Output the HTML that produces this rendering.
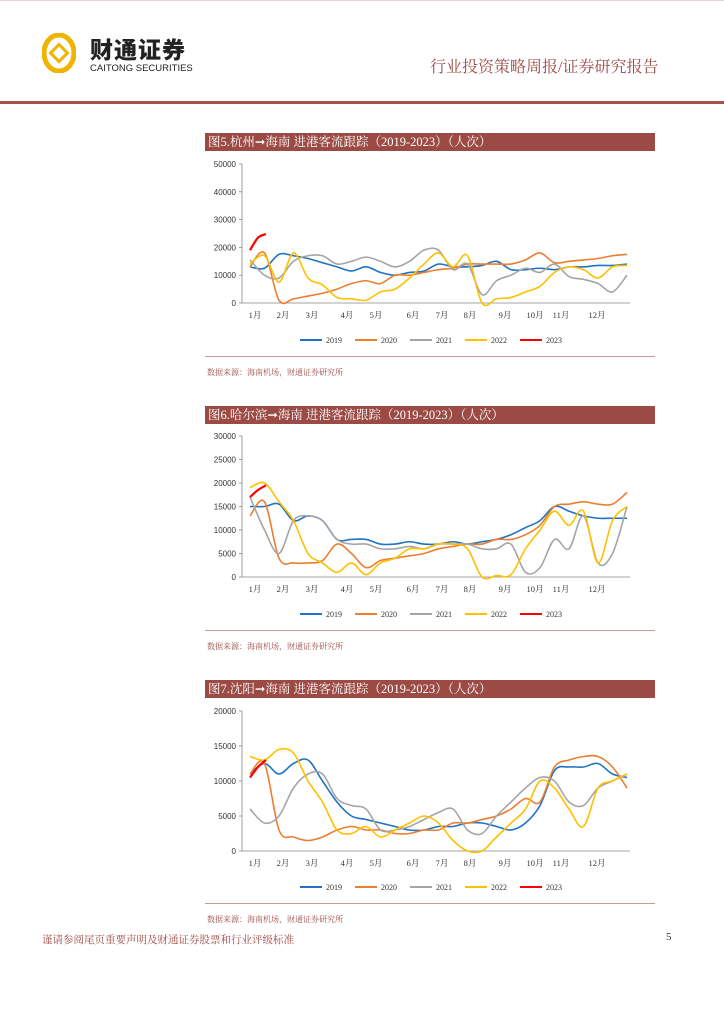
<!DOCTYPE html>
<html><head><meta charset="utf-8">
<style>
body{margin:0;width:724px;height:1024px;background:#fff;position:relative;font-family:"Liberation Serif","Noto Serif CJK SC",serif;overflow:hidden}
.abs{position:absolute}
.bar{position:absolute;left:205px;width:450px;height:18px;background:#9b4a44;color:#fff;font-size:12.5px;line-height:18px;padding-left:3px;box-sizing:border-box}
.src{position:absolute;left:207px;font-size:8px;color:#9b4a44}
.sep{position:absolute;left:205px;width:450px;height:1px;background:#c99a96}
</style></head><body>
<div class="abs" style="left:0;top:0;width:724px;height:1px;background:#e8d4d2"></div>
<svg class="abs" style="left:42px;top:33px" width="34" height="40" viewBox="0 0 34 40"><ellipse cx="17" cy="20" rx="15" ry="18" fill="none" stroke="#f0b400" stroke-width="5"/><rect x="11" y="14" width="12" height="12" transform="rotate(45 17 20)" fill="none" stroke="#f0b400" stroke-width="3"/></svg>
<div class="abs" style="left:90px;top:36px;font-family:'Noto Sans CJK SC',sans-serif;font-weight:900;font-size:23px;line-height:24px;color:#222;letter-spacing:1px">财通证券</div>
<div class="abs" style="left:90px;top:63px;font-family:'Liberation Sans',sans-serif;font-size:9.5px;line-height:11px;color:#222">CAITONG SECURITIES</div>
<div class="abs" style="left:430px;top:54px;font-size:16px;color:#9b4a44">行业投资策略周报/证券研究报告</div>
<div class="abs" style="left:0;top:101px;width:724px;height:3px;background:#a8504a"></div>

<div class="bar" style="top:133px">图5.杭州➞海南 进港客流跟踪（2019-2023）（人次）</div>
<div class="sep" style="top:356px"></div>
<div class="src" style="top:367px">数据来源：海南机场，财通证券研究所</div>
<div class="bar" style="top:406px">图6.哈尔滨➞海南 进港客流跟踪（2019-2023）（人次）</div>
<div class="sep" style="top:630px"></div>
<div class="src" style="top:641px">数据来源：海南机场，财通证券研究所</div>
<div class="bar" style="top:680px">图7.沈阳➞海南 进港客流跟踪（2019-2023）（人次）</div>
<div class="sep" style="top:903px"></div>
<div class="src" style="top:914px">数据来源：海南机场，财通证券研究所</div>

<div class="abs" style="left:42px;top:932px;font-size:10.5px;color:#9b4a44">谨请参阅尾页重要声明及财通证券股票和行业评级标准</div>
<div class="abs" style="left:666px;top:931px;font-size:11px;color:#333">5</div>

<svg id="charts" class="abs" style="left:0;top:0" width="724" height="1024"></svg>
<script>
const months=["1月","2月","3月","4月","5月","6月","7月","8月","9月","10月","11月","12月"];
const monthX=[255,283,312,347,376,413,442,470,505,535,561,597];
const years=["2019","2020","2021","2022","2023"];
const colors=["#1f72c4","#ed7d31","#a5a5a5","#ffc000","#ff0000"];
const c5Ticks=[0,10000,20000,30000,40000,50000];
const c5_2019=[13,12.5,17.5,17,16,14.5,13,11.5,13,11,10,11,11.5,14,13,13,13.5,15,12,12,12.5,12,13,13,13.5,13.5,14];
const c5_2020=[13,18,1,1.5,2.5,3.5,5,7,8,7,10,10,11,12,12.5,14,14,14,14,15.5,18,14.5,15,15.5,16,17,17.5];
const c5_2021=[15.5,10,9,15,17,17,14,15,16.5,15,13,15,19,19,12,14,3,8,10,12.5,11,14,9.5,8.5,7,4,10];
const c5_2022=[14,17,7.5,18,9,6.5,2,1.5,1,4,5,9,14,18,13,17,0,1.5,2,4,6,11,13,12,9,13,13.5];
const c5_2023=[19,23.5,24.8];
const c6Ticks=[0,5000,10000,15000,20000,25000,30000];
const c6_2019=[15,15,15.5,12,13,12,8,8,8,7,7,7.5,7,7,7.5,7,7.5,8,9,10.5,12,15,14,13,12.5,12.5,12.5];
const c6_2020=[13,16,4,3,3,3.5,7,5,2,3.5,4,4.5,5,6,6.5,7,7,8,8,9,11,15,15.5,16,15.5,15.5,18];
const c6_2021=[17,10,5,12,13,12,8,7,7,6,6,6.5,6,7,7,7,6,6,7,1,2,8,6,13,3,5,15];
const c6_2022=[19,20,16,12,5,3,1,3,0.5,3,4,6,6,7,7,6,0,0.3,0.5,6,10,14,11,14,3,12,15];
const c6_2023=[17,18.5,19.5];
const c7Ticks=[0,5000,10000,15000,20000];
const c7_2019=[11,12.5,11,12.5,13,10,7,5,4.5,4,3.5,3,3,3.5,3.5,4,4,3.5,3,4,6.5,11.5,12,12,12.5,11,10.5];
const c7_2020=[11,12.5,3,2,1.5,2,3,3.5,3,3,2.5,2.5,3,3,4,4,4.5,5,6,7.5,7,12,13,13.5,13.5,12,9];
const c7_2021=[6,4,5,9,11,11,7.5,6.5,6,3,3,3.5,4.5,5.5,6,3,2.5,5,7,9,10.5,10,7,6.5,9,10,11];
const c7_2022=[13.5,13,14.5,14,10,7,3,2.5,3.5,2,3,4,5,4,1.5,0,0,2,4,6,10,9,6,3.5,9,10,11];
const c7_2023=[10.5,12,13];

const svg=document.getElementById('charts');
const NS="http://www.w3.org/2000/svg";
function mk(tag,attrs,parent){const e=document.createElementNS(NS,tag);for(const k in attrs)e.setAttribute(k,attrs[k]);(parent||svg).appendChild(e);return e;}
function smooth(p){let d=`M${p[0][0]},${p[0][1]}`;for(let i=0;i<p.length-1;i++){const p0=p[i-1]||p[i],p1=p[i],p2=p[i+1],p3=p[i+2]||p2;const c1=[p1[0]+(p2[0]-p0[0])/6,p1[1]+(p2[1]-p0[1])/6],c2=[p2[0]-(p3[0]-p1[0])/6,p2[1]-(p3[1]-p1[1])/6];d+=`C${c1[0]},${c1[1]} ${c2[0]},${c2[1]} ${p2[0]},${p2[1]}`;}return d;}
function chart(id,y0,yTop,ticks,series,legendY){
  const g=mk('g',{});
  
  
  const max=ticks[ticks.length-1];
  const y=v=>y0-(v*1000)/max*(y0-yTop);
  const x=i=>250+i*14.5;
  const ax=mk('line',{x1:242,y1:yTop,x2:242,y2:y0,stroke:'#888','stroke-width':0.8},g);
  
  
  const xa=mk('line',{x1:242,y1:y0,x2:630,y2:y0,stroke:'#888','stroke-width':0.8},g);
  
  
  ticks.forEach(t=>{const yy=y0-t/max*(y0-yTop);
    mk('line',{x1:239,y1:yy,x2:242,y2:yy,stroke:'#888','stroke-width':0.8},g);
    const tx=mk('text',{x:236,y:yy+3,'text-anchor':'end','font-size':8,fill:'#333','font-family':'Liberation Sans, sans-serif'},g);
    tx.textContent=t;
    
    });
  months.forEach((m,i)=>{const tx=mk('text',{x:monthX[i],y:y0+15,'text-anchor':'middle','font-size':8.5,fill:'#333'},g);
    tx.textContent=m;
    
    });
  series.forEach((s,k)=>{const step=k===4?0.55:1;
    const pts=s.map((v,i)=>[x(i*step),Math.min(y0,y(v))]);
    const p=mk('path',{d:smooth(pts),fill:'none',stroke:colors[k],'stroke-width':k===4?2.2:1.6},g);
    
    
    const lx=300+k*55;
    const ll=mk('line',{x1:lx,y1:legendY,x2:lx+22,y2:legendY,stroke:colors[k],'stroke-width':2},g);
    
    
    const lt=mk('text',{x:lx+26,y:legendY+3,'font-size':8,fill:'#333'},g);
    lt.textContent=years[k];
    
    });
}
chart('chart5-hangzhou',303,164,c5Ticks,[c5_2019,c5_2020,c5_2021,c5_2022,c5_2023],340);
chart('chart6-harbin',577,436,c6Ticks,[c6_2019,c6_2020,c6_2021,c6_2022,c6_2023],614);
chart('chart7-shenyang',851,711,c7Ticks,[c7_2019,c7_2020,c7_2021,c7_2022,c7_2023],887);
</script>
</body></html>
